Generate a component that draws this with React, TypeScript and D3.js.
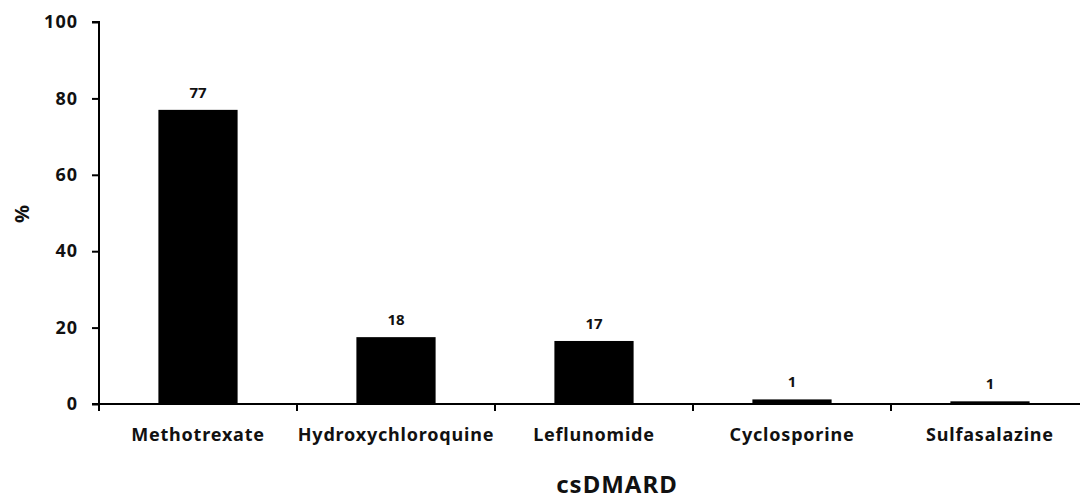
import { useEffect, useRef } from 'react';
import * as d3 from 'd3';

const drugs = ['Methotrexate', 'Hydroxychloroquine', 'Leflunomide', 'Cyclosporine', 'Sulfasalazine'];
const percents = [77, 17.5, 16.5, 1.2, 0.7];
const labels = ['77', '18', '17', '1', '1'];
const yTicks = [0, 20, 40, 60, 80, 100];

const App = () => {
  const svgRef = useRef<SVGSVGElement>(null);

  useEffect(() => {
    document.body.style.margin = '0';
    if (!svgRef.current) return;
    const svg = d3.select(svgRef.current);
    svg.selectAll('*').remove();

    const font = "'Noto Sans', 'Open Sans', sans-serif";
    const left = 99;
    const bandW = 198;
    const yTop = 22;
    const yZero = 404;

    const x = d3.scaleBand<string>().domain(drugs).range([left, left + bandW * drugs.length]).paddingInner(0.6).paddingOuter(0.3);
    const xEdges = d3.scaleLinear().domain([0, drugs.length]).range([left, left + bandW * drugs.length]);
    const y = d3.scaleLinear().domain([0, 100]).range([yZero, yTop]);

    // bars
    svg.append('g')
      .selectAll('rect')
      .data(drugs)
      .enter()
      .append('rect')
      .attr('x', d => x(d)!)
      .attr('width', x.bandwidth())
      .attr('y', (d, i) => y(percents[i]))
      .attr('height', (d, i) => yZero - y(percents[i]))
      .attr('fill', '#000');

    // value labels
    svg.append('g')
      .selectAll('text')
      .data(drugs)
      .enter()
      .append('text')
      .attr('x', d => x(d)! + x.bandwidth() / 2)
      .attr('y', (d, i) => y(percents[i]) - 12)
      .attr('text-anchor', 'middle')
      .attr('font-family', font)
      .attr('font-weight', 'bold')
      .attr('font-size', 15)
      .attr('fill', '#111')
      .text((d, i) => labels[i]);

    // y axis
    const yAxis = d3.axisLeft(y).tickValues(yTicks).tickSize(7).tickPadding(14);
    const gy = svg.append('g').attr('transform', `translate(${left},0)`).call(yAxis);
    gy.select('.domain').attr('stroke', '#000').attr('stroke-width', 2).attr('d', `M-7,${yTop}H0V${yZero}`);
    gy.selectAll('.tick line').attr('stroke', '#000').attr('stroke-width', 2);
    gy.selectAll('.tick text')
      .attr('font-family', font)
      .attr('font-weight', 'bold')
      .attr('font-size', 18)
      .attr('letter-spacing', 1)
      .attr('fill', '#111');

    // x axis
    svg.append('line')
      .attr('x1', left - 7)
      .attr('x2', 1080)
      .attr('y1', yZero)
      .attr('y2', yZero)
      .attr('stroke', '#000')
      .attr('stroke-width', 2);
    svg.append('g')
      .selectAll('line')
      .data(d3.range(drugs.length + 1))
      .enter()
      .append('line')
      .attr('x1', d => xEdges(d))
      .attr('x2', d => xEdges(d))
      .attr('y1', yZero)
      .attr('y2', yZero + 7)
      .attr('stroke', '#000')
      .attr('stroke-width', 2);
    svg.append('g')
      .selectAll('text')
      .data(drugs)
      .enter()
      .append('text')
      .attr('x', d => x(d)! + x.bandwidth() / 2)
      .attr('y', 441)
      .attr('text-anchor', 'middle')
      .attr('font-family', font)
      .attr('font-weight', 'bold')
      .attr('font-size', 18)
      .attr('letter-spacing', 0.8)
      .attr('fill', '#111')
      .text(d => d);

    // axis titles
    svg.append('text')
      .attr('x', 617)
      .attr('y', 493)
      .attr('text-anchor', 'middle')
      .attr('font-family', font)
      .attr('font-weight', 'bold')
      .attr('font-size', 24)
      .attr('letter-spacing', 1)
      .attr('fill', '#111')
      .text('csDMARD');

    svg.append('text')
      .attr('transform', 'rotate(-90)')
      .attr('x', -214)
      .attr('y', 29)
      .attr('text-anchor', 'middle')
      .attr('font-family', font)
      .attr('font-weight', 'bold')
      .attr('font-size', 20)
      .attr('fill', '#111')
      .text('%');
  }, []);

  return <svg ref={svgRef} width={1080} height={500} style={{ display: 'block', background: '#fff' }} />;
};

export default App;
